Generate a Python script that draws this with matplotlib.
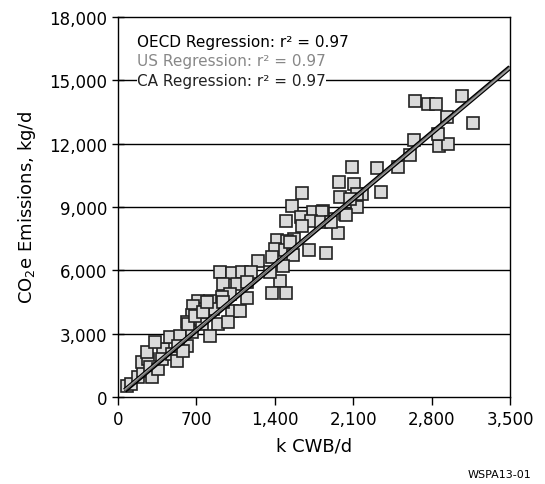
import matplotlib
matplotlib.use("Agg")
import matplotlib.pyplot as plt
import numpy as np

# Data (k CWB/d, kg/d CO2e)
cwb = [2652, 2768, 2840, 3072, 2938, 3170, 2643, 2866, 2947, 2857, 2607, 2500, 2313, 2348,
       2179, 2089, 1973, 2107, 1982, 2134, 2134, 2071, 2027, 1866, 1964, 1830, 1643, 1554,
       1741, 1821, 1500, 1634, 1723, 1643, 1813, 1902, 2036, 1420, 1572, 1509, 1402, 1491,
       1705, 1857, 1375, 1563, 1473, 1447, 1375, 1500, 1536, 1250, 911, 1018, 1107, 1188,
       1357, 938, 1063, 1152, 1000, 929, 1152, 714, 822, 848, 759, 670, 1018, 661, 893,
       616, 732, 80, 116, 179, 223, 214, 268, 286, 304, 357, 402, 393, 482, 527, 464, 554,
       616, 536, 661, 625, 750, 822, 688, 759, 795, 982, 1089, 938, 259, 330, 580]
emis = [14022, 13879, 13879, 14258, 13264, 12979, 12174, 11890, 11985, 12458, 11464, 10895,
        10848, 9711, 9616, 10895, 10185, 10090, 9474, 9616, 9000, 9379, 8669, 8432, 7769,
        8811, 9663, 9048, 8763, 8763, 8337, 8527, 8337, 8100, 8290, 8290, 8621, 7437, 7484,
        7390, 7011, 6963, 6963, 6821, 6632, 6727, 6205, 5495, 4926, 4926, 7342, 6442, 5921,
        5874, 5921, 5921, 5921, 5353, 5353, 5448, 4879, 4737, 4690, 4548, 4548, 4169, 4169,
        4311, 4074, 3884, 3458, 3553, 3695, 521, 616, 947, 1232, 1658, 1800, 1421, 947, 1326,
        2274, 1800, 2037, 1705, 2842, 2890, 2416, 2416, 3079, 3458, 3458, 2890, 3837, 4026,
        4500, 3553, 4074, 4500, 2132, 2605, 2179]

# Regression fits (slope, intercept)
reg_names = ["OECD Regression: r² = 0.97", "US Regression: r² = 0.97", "CA Regression: r² = 0.97"]
reg_slope = [4.45, 4.44, 4.47]
reg_icpt = [40, 60, 20]
reg_x = [60, 3500]

xticks = [0, 700, 1400, 2100, 2800, 3500]
yticks = [0, 3000, 6000, 9000, 12000, 15000, 18000]

plt.rcParams['font.family'] = ['DejaVu Sans']
fig = plt.figure(figsize=(5.45, 4.85), dpi=100)
ax = fig.add_axes([0.2165, 0.1794, 0.7193, 0.7835])

ax.set_xlim(0, 3500)
ax.set_ylim(0, 18000)
for yt in yticks[1:-1]:
    ax.axhline(yt, color='black', lw=1.0, zorder=1)

ax.plot(cwb, emis, linestyle='none', marker='s', markersize=8.5,
        markerfacecolor='#dadada', markeredgecolor='#222222', markeredgewidth=1.2, zorder=3)

rx = np.array(reg_x, dtype=float)
styles = [dict(color='black', lw=3.6), dict(color='#9a9a9a', lw=1.6), dict(color='#555555', lw=0.5)]
for s, b, st in zip(reg_slope, reg_icpt, styles):
    ax.plot(rx, s * rx + b, zorder=4, solid_capstyle='butt', **st)

ycols = ['black', '#888888', '#222222']
for i, (name, c) in enumerate(zip(reg_names, ycols)):
    ax.text(170, 16850 - i * 925, name, fontsize=11, color=c, va='center', ha='left',
            bbox=dict(facecolor='white', edgecolor='none', pad=0.2), zorder=5)

ax.set_xticks(xticks)
ax.set_xticklabels([f"{v:,}" for v in xticks], fontsize=12)
ax.set_yticks(yticks)
ax.set_yticklabels([f"{v:,}" for v in yticks], fontsize=12)
ax.tick_params(axis='y', direction='inout', length=9, width=1)
ax.tick_params(axis='x', direction='out', length=6, width=1)
for sp in ax.spines.values():
    sp.set_linewidth(1.0)

ax.set_xlabel("k CWB/d", fontsize=13, labelpad=6)
ax.set_ylabel("CO$_2$e Emissions, kg/d", fontsize=13, labelpad=8)
fig.text(0.975, 0.01, "WSPA13-01", fontsize=8, ha='right', va='bottom')

fig.savefig("out.png", dpi=100)
